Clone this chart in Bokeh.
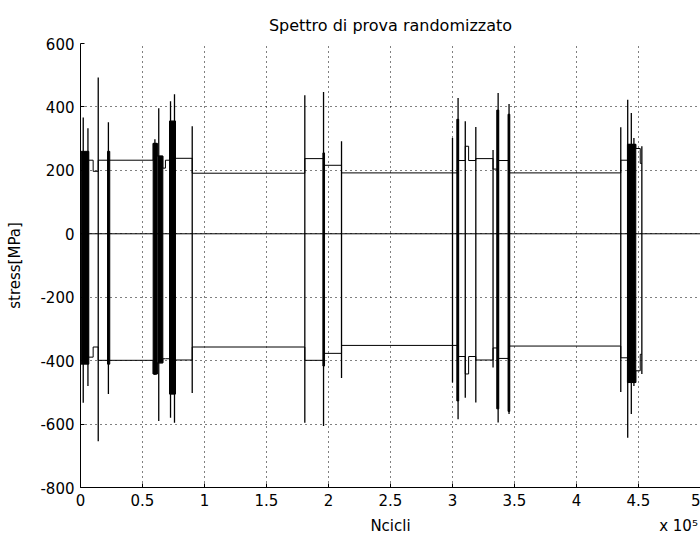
from bokeh.plotting import figure
from bokeh.models import Range1d, FixedTicker, Span, LinearAxis
from bokeh.embed import file_html
from bokeh.resources import INLINE

# ---- data (cycles, MPa) ----
# envelope levels that hold after each block boundary (upper = max stress, lower = min stress)
env_x  = [6700, 10200, 14300, 58600, 61900, 66400, 68500, 71800, 76600, 90100,
          180900, 196000, 210500, 304000, 310300, 313000, 318800, 332700, 336300,
          345600, 435700, 441100, 447800, 451400, 452700]
env_hi = [232, 197, 232, 285, 245, 207, 232, 355, 238, 191,
          237, 216, 192, 231, 276, 231, 237, 204, 231,
          192, 232, 282, 269, 222, 222]
env_lo = [-389, -357, -399, -442, -407, -394, -394, -505, -398, -357,
          -399, -377, -352, -387, -442, -387, -398, -360, -393,
          -354, -391, -469, -432, -380, -380]

# isolated peak/valley cycles
spike_x  = [2200, 6000, 14300, 22500, 60000, 63100, 72600, 75800, 90100,
            180900, 196000, 210500, 300000, 304500, 310300, 318800, 332700,
            336800, 345600, 435700, 441300, 444200, 446300, 452700]
spike_hi = [367, 333, 493, 352, 298, 396, 418, 440, 339,
            437, 447, 292, 302, 428, 355, 337, 264,
            444, 409, 336, 423, 381, 302, 276]
spike_lo = [-533, -480, -654, -505, -445, -590, -580, -596, -502,
            -596, -606, -455, -469, -585, -517, -532, -422,
            -595, -568, -499, -643, -568, -480, -442]

# blocks of many dense cycles
dense_x0 = [500, 21800, 58600, 62800, 71800, 195500, 303500, 335700, 344800, 441100]
dense_x1 = [6700, 23600, 61900, 66400, 76600, 196800, 305000, 337300, 346200, 447800]
dense_hi = [260, 260, 285, 245, 355, 255, 361, 390, 377, 282]
dense_lo = [-411, -411, -442, -407, -505, -417, -527, -552, -560, -469]

x_ticks = [0, 50000, 100000, 150000, 200000, 250000, 300000, 350000, 400000, 450000, 500000]
x_tick_labels = ["0", "0.5", "1", "1.5", "2", "2.5", "3", "3.5", "4", "4.5", "5"]
y_ticks = [-800, -600, -400, -200, 0, 200, 400, 600]
y_tick_labels = ["-800", "-600", "-400", "-200", "0", "200", "400", "600"]
x_title = "Ncicli"
x_exponent = "x 10\u2075"
y_title = "stress[MPa]"

FONT = "DejaVu Sans"

p = figure(width=700, height=540, x_range=Range1d(0, 500000), y_range=Range1d(-800, 600),
           output_backend="svg", toolbar_location=None,
           min_border_left=80, min_border_right=0, min_border_top=43, min_border_bottom=53)
p.outline_line_color = None
p.background_fill_color = "white"
p.border_fill_color = "white"

p.title.text = "Spettro di prova randomizzato"
p.title.align = "center"
p.title.text_font = FONT
p.title.text_font_size = "16px"
p.title.text_font_style = "normal"
p.title.text_color = "black"
p.title.standoff = 18

p.xaxis.ticker = FixedTicker(ticks=x_ticks)
p.xaxis.major_label_overrides = {t: s for t, s in zip(x_ticks, x_tick_labels)}
p.yaxis.ticker = FixedTicker(ticks=y_ticks)
p.yaxis.major_label_overrides = {t: s for t, s in zip(y_ticks, y_tick_labels)}
p.xgrid.ticker = FixedTicker(ticks=x_ticks)
p.ygrid.ticker = FixedTicker(ticks=y_ticks)

for ax in (p.xaxis, p.yaxis):
    ax.major_tick_in = 4
    ax.major_tick_out = 0
    ax.minor_tick_line_color = None
    ax.axis_line_color = "black"
    ax.major_tick_line_color = "black"
    ax.major_label_text_font = FONT
    ax.major_label_text_font_size = "15px"
    ax.major_label_text_color = "black"
    ax.major_label_standoff = 6
    ax.axis_label_text_font = FONT
    ax.axis_label_text_font_size = "15px"
    ax.axis_label_text_font_style = "normal"
    ax.axis_label_text_color = "black"

p.yaxis.axis_label = y_title
p.yaxis.axis_label_standoff = 13

# second (line-less) bottom axis carrying the x title and the exponent note
title_pos = [250000, 482300]
note_axis = LinearAxis(ticker=FixedTicker(ticks=title_pos),
                       major_label_overrides={title_pos[0]: x_title, title_pos[1]: x_exponent},
                       axis_line_color=None, major_tick_line_color=None,
                       minor_tick_line_color=None, major_label_standoff=2,
                       major_label_text_font=FONT, major_label_text_font_size="15px",
                       major_label_text_color="black")
p.add_layout(note_axis, "below")

p.grid.grid_line_color = "black"
p.grid.grid_line_dash = "1 4"
p.grid.grid_line_width = 1

# zero mean-stress line
p.add_layout(Span(location=0, dimension="width", line_color="black", line_width=1))

p.step(x=env_x, y=env_hi, mode="after", line_color="black", line_width=1)
p.step(x=env_x, y=env_lo, mode="after", line_color="black", line_width=1)
p.quad(left=dense_x0, right=dense_x1, top=dense_hi, bottom=dense_lo,
       fill_color="black", line_color="black", line_width=1)
p.segment(x0=spike_x, y0=spike_lo, x1=spike_x, y1=spike_hi, line_color="black", line_width=1.3)

open("out.html", "w").write(file_html(p, INLINE))
